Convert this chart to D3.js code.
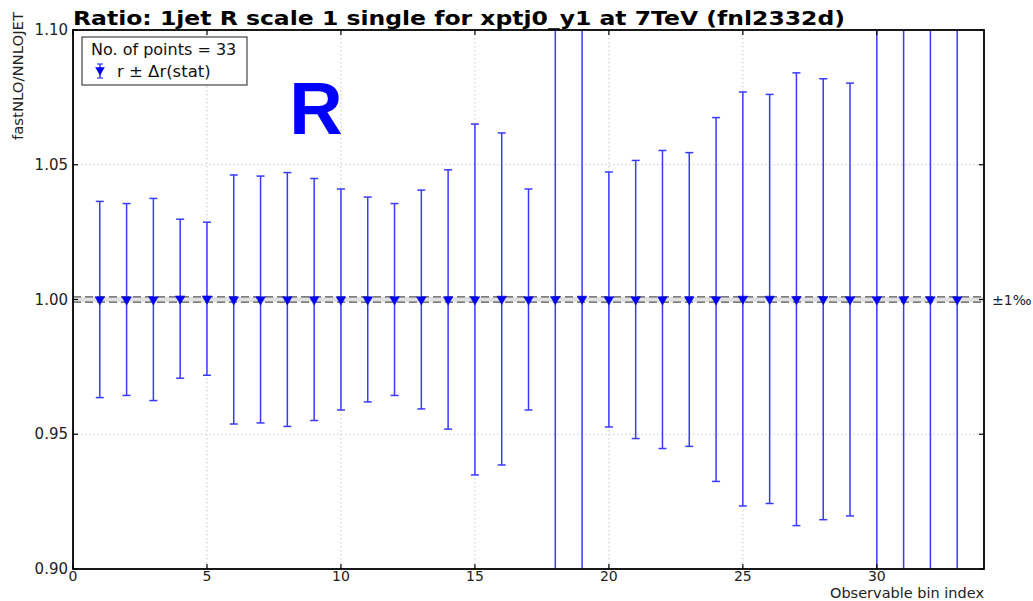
<!DOCTYPE html>
<html><head><meta charset="utf-8">
<script src="https://cdn.jsdelivr.net/npm/d3@7"></script>
<style>body{margin:0;background:#fff;} svg{display:block;}</style>
</head><body>
<svg id="c" width="1033" height="601"></svg>
<script>
const bins = d3.range(1, 34);
const ratio = [1.0000,1.0000,1.0000,1.0003,1.0003,1.0000,1.0000,1.0000,1.0000,1.0000,1.0000,1.0000,1.0000,1.0000,1.0000,1.0002,1.0000,1.0001,1.0002,1.0000,1.0000,1.0000,1.0000,1.0000,1.0002,1.0002,1.0001,1.0001,1.0000,1.0000,1.0000,1.0000,1.0000];
const statErr = [0.0364,0.0356,0.0375,0.0295,0.0284,0.0462,0.0458,0.0471,0.0449,0.0410,0.0380,0.0356,0.0406,0.0481,0.0651,0.0616,0.0410,0.2000,0.1500,0.0473,0.0516,0.0553,0.0545,0.0675,0.0768,0.0759,0.0840,0.0818,0.0803,0.2000,0.2000,0.2000,0.2000];
const xTicks = [0,5,10,15,20,25,30];
const yTicks = [0.90,0.95,1.00,1.05,1.10];
const band = 0.001;

const svg = d3.select("#c");
const L = 73, R = 984, T = 30, B = 569;
const x = d3.scaleLinear().domain([0,34]).range([L,R]);
const y = d3.scaleLinear().domain([0.90,1.10]).range([B,T]);
const font = "DejaVu Sans, sans-serif";

svg.append("defs").append("clipPath").attr("id","clip")
  .append("rect").attr("x",L).attr("y",T).attr("width",R-L).attr("height",B-T);

// grid
const g = svg.append("g");
g.selectAll(".gx").data(xTicks.filter(d=>d>0)).join("line")
  .attr("x1",d=>x(d)).attr("x2",d=>x(d)).attr("y1",T).attr("y2",B)
  .attr("stroke","#c8c8c8").attr("stroke-dasharray","1.5,2.5").attr("stroke-width",1);
g.selectAll(".gy").data(yTicks.filter(d=>d>0.9 && d<1.1)).join("line")
  .attr("y1",d=>y(d)).attr("y2",d=>y(d)).attr("x1",L).attr("x2",R)
  .attr("stroke","#c8c8c8").attr("stroke-dasharray","1.5,2.5").attr("stroke-width",1);

// band
svg.append("rect").attr("x",L).attr("width",R-L)
  .attr("y",y(1+band)).attr("height",y(1-band)-y(1+band))
  .attr("fill","#e0e0e0");
[1+band,1-band].forEach(v=>{
  svg.append("line").attr("x1",L).attr("x2",R).attr("y1",y(v)).attr("y2",y(v))
    .attr("stroke","#555").attr("stroke-width",1.3).attr("stroke-dasharray","8,4");
});
svg.append("text").attr("x",R+8).attr("y",y(1)+5).attr("font-family",font)
  .attr("font-size",14).attr("fill","#222").text("±1‰");

// error bars
const eb = svg.append("g").attr("clip-path","url(#clip)");
const col = "#3a3aff";
bins.forEach((b,i)=>{
  const cx = x(b), up = y(ratio[i]+statErr[i]), dn = y(ratio[i]-statErr[i]);
  eb.append("line").attr("x1",cx).attr("x2",cx).attr("y1",up).attr("y2",dn)
    .attr("stroke",col).attr("stroke-width",1.5);
  [up,dn].forEach(yy=>eb.append("line").attr("x1",cx-4).attr("x2",cx+4).attr("y1",yy).attr("y2",yy)
    .attr("stroke",col).attr("stroke-width",1.5));
});
const tri = d3.symbol().type(d3.symbolTriangle).size(40);
svg.append("g").selectAll("path").data(bins).join("path")
  .attr("d",tri).attr("transform",(d,i)=>`translate(${x(d)},${y(ratio[i])}) rotate(180)`)
  .attr("fill","#0000ff").attr("stroke","#0000cc").attr("stroke-width",0.5);

// frame
svg.append("rect").attr("x",L).attr("y",T).attr("width",R-L).attr("height",B-T)
  .attr("fill","none").attr("stroke","#000").attr("stroke-width",1.8);

// ticks inward
xTicks.forEach(t=>{
  svg.append("line").attr("x1",x(t)).attr("x2",x(t)).attr("y1",B).attr("y2",B-5).attr("stroke","#000").attr("stroke-width",1.2);
  svg.append("line").attr("x1",x(t)).attr("x2",x(t)).attr("y1",T).attr("y2",T+5).attr("stroke","#000").attr("stroke-width",1.2);
  svg.append("text").attr("x",x(t)).attr("y",B+12).attr("text-anchor","middle")
    .attr("font-family",font).attr("font-size",14).attr("fill","#222").text(t);
});
yTicks.forEach(t=>{
  svg.append("line").attr("x1",L).attr("x2",L+5).attr("y1",y(t)).attr("y2",y(t)).attr("stroke","#000").attr("stroke-width",1.2);
  svg.append("line").attr("x1",R).attr("x2",R-5).attr("y1",y(t)).attr("y2",y(t)).attr("stroke","#000").attr("stroke-width",1.2);
  svg.append("text").attr("x",L-5).attr("y",y(t)+5).attr("text-anchor","end")
    .attr("font-family",font).attr("font-size",15).attr("fill","#222").text(t.toFixed(2));
});

// labels
svg.append("text").attr("x",L).attr("y",25).attr("font-family",font).attr("font-weight","bold")
  .attr("font-size",20).attr("textLength",772).attr("lengthAdjust","spacingAndGlyphs")
  .attr("fill","#000").text("Ratio: 1jet R scale 1 single for xptj0_y1 at 7TeV (fnl2332d)");
svg.append("text").attr("x",R).attr("y",597.5).attr("text-anchor","end").attr("font-family",font)
  .attr("font-size",14.5).attr("fill","#222").text("Observable bin index");
svg.append("text").attr("transform","translate(23,12) rotate(-90)").attr("text-anchor","end")
  .attr("font-family",font).attr("font-size",14).attr("textLength",128).attr("lengthAdjust","spacingAndGlyphs")
  .attr("fill","#222").text("fastNLO/NNLOJET");

// big R
svg.append("text").attr("x",316).attr("y",134).attr("text-anchor","middle").attr("font-family","Liberation Sans, Arial, sans-serif")
  .attr("font-weight","bold").attr("font-size",74).attr("fill","#0000ff").text("R");

// legend
svg.append("rect").attr("x",82).attr("y",37).attr("width",165).attr("height",48)
  .attr("fill","#fff").attr("stroke","#444").attr("stroke-width",1.2);
svg.append("text").attr("x",91).attr("y",55).attr("font-family",font).attr("font-size",16).attr("fill","#111").text("No. of points = 33");
svg.append("line").attr("x1",100).attr("x2",100).attr("y1",64).attr("y2",78).attr("stroke",col).attr("stroke-width",1.5);
[64,78].forEach(yy=>svg.append("line").attr("x1",97).attr("x2",103).attr("y1",yy).attr("y2",yy).attr("stroke",col).attr("stroke-width",1.2));
svg.append("path").attr("d",tri).attr("transform","translate(100,70) rotate(180)").attr("fill","#0000ff");
svg.append("text").attr("x",117).attr("y",77).attr("font-family",font).attr("font-size",16.5).attr("fill","#111").text("r ± Δr(stat)");
</script>
</body></html>
